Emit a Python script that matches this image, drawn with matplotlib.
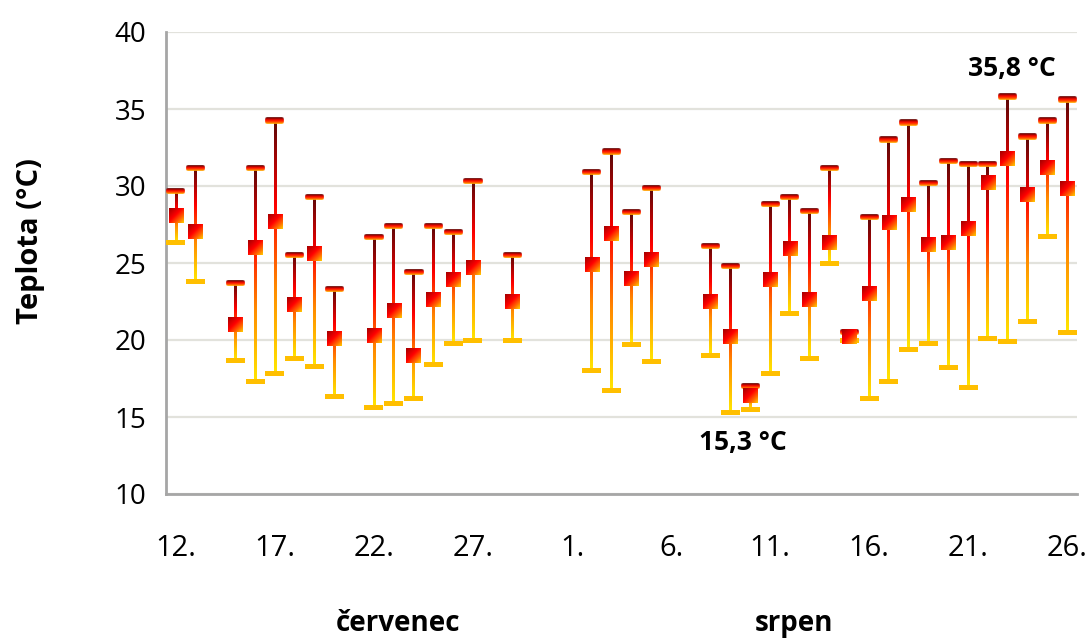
import numpy as np
import matplotlib
matplotlib.use("Agg")
import matplotlib.pyplot as plt
from matplotlib.colors import LinearSegmentedColormap
from matplotlib.patches import Rectangle
from matplotlib.transforms import blended_transform_factory

# ---- data -------------------------------------------------------------
july_days = list(range(12, 32))
august_days = list(range(1, 27))
day_labels = [f"{d}." for d in july_days + august_days]
months = ["červenec", "srpen"]

nan = np.nan
t_max = [29.7, 31.2, nan, 23.7, 31.2, 34.2, 25.5, 29.3, 23.3, nan,
         26.7, 27.4, 24.4, 27.4, 27.0, 30.3, nan, 25.5, nan, nan,
         nan, 30.9, 32.2, 28.3, 29.9, nan, nan, 26.1, 24.8, 17.0,
         28.8, 29.3, 28.4, 31.2, 20.5, 28.0, 33.0, 34.1, 30.2, 31.6,
         31.4, 31.4, 35.8, 33.2, 34.2, 35.6]
t_mean = [28.1, 27.0, nan, 21.0, 26.0, 27.7, 22.3, 25.6, 20.1, nan,
          20.3, 21.9, 19.0, 22.6, 23.9, 24.7, nan, 22.5, nan, nan,
          nan, 24.9, 26.9, 24.0, 25.2, nan, nan, 22.5, 20.2, 16.4,
          23.9, 25.9, 22.6, 26.3, 20.2, 23.0, 27.6, 28.8, 26.2, 26.3,
          27.2, 30.2, 31.8, 29.4, 31.2, 29.8]
t_min = [26.3, 23.8, nan, 18.7, 17.3, 17.8, 18.8, 18.3, 16.3, nan,
         15.6, 15.9, 16.2, 18.4, 19.8, 20.0, nan, 20.0, nan, nan,
         nan, 18.0, 16.7, 19.7, 18.6, nan, nan, 19.0, 15.3, 15.5,
         17.8, 21.7, 18.8, 25.0, 20.0, 16.2, 17.3, 19.4, 19.8, 18.2,
         16.9, 20.1, 19.9, 21.2, 26.7, 20.5]

# ---- style ------------------------------------------------------------
plt.rcParams["font.family"] = ["Open Sans", "DejaVu Sans"]
TEXT = "#000000"
GRID = "#e2e2dc"
SPINE = "#a6a6a6"

line_cmap = LinearSegmentedColormap.from_list(
    "hl", [(0.0, "#5a0808"), (0.33, "#ff0000"), (0.66, "#ff8a00"), (1.0, "#ffe800")])
cap_cmap = LinearSegmentedColormap.from_list(
    "cap", [(0.0, "#4a0000"), (0.45, "#ff0a00"), (0.75, "#ff5a00"), (1.0, "#ffc400")])
box_cmap = LinearSegmentedColormap.from_list(
    "box", [(0.0, "#a00000"), (0.45, "#ff0000"), (0.75, "#ff6a00"), (1.0, "#ffd400")])
LOW_CAP = "#ffbf00"

# marker sizes in pixels
CAP_W, CAP_H, CAP_R = 19.0, 6.0, 2.5
LOW_W, LOW_H = 19.0, 5.0
BOX = 14.5
LINE_W = 2.8

W, H, DPI = 1091, 640, 100
fig = plt.figure(figsize=(W / DPI, H / DPI), dpi=DPI)
fig.patch.set_facecolor("white")
ax = fig.add_axes([166 / W, 1 - 494 / H, (1077 - 166) / W, (494 - 32) / H])

x = np.arange(len(day_labels))
hi = np.array(t_max, dtype=float)
mu = np.array(t_mean, dtype=float)
lo = np.array(t_min, dtype=float)

xlim = (-0.5, len(x) - 0.5)
ylim = (10, 40)
ax.set_xlim(*xlim)
ax.set_ylim(*ylim)
ax.autoscale(False)

pos = ax.get_position()
dx = (xlim[1] - xlim[0]) / (pos.width * W)   # data units per pixel
dy = (ylim[1] - ylim[0]) / (pos.height * H)


def rounded_gradient(w_px, h_px, r_px, cmap, n=4):
    cols, rows = int(w_px * n), int(h_px * n)
    u = (np.arange(cols) + 0.5) / n
    v = (np.arange(rows) + 0.5) / n
    U, V = np.meshgrid(u, v)
    qx = np.clip(np.abs(U - w_px / 2) - (w_px / 2 - r_px), 0, None)
    qy = np.clip(np.abs(V - h_px / 2) - (h_px / 2 - r_px), 0, None)
    dist = np.hypot(qx, qy)
    alpha = np.clip(r_px - dist + 0.5, 0, 1)
    rgba = cmap(V / h_px)
    rgba[..., 3] = alpha
    return rgba


def diagonal_gradient(size_px, cmap, n=4):
    k = int(size_px * n)
    g = (np.arange(k) + 0.5) / k
    U, V = np.meshgrid(g, g)
    return cmap((U + V) / 2)


cap_img = rounded_gradient(CAP_W, CAP_H, CAP_R, cap_cmap)
box_img = diagonal_gradient(BOX, box_cmap)
line_img = line_cmap(np.linspace(0, 1, 256))[:, None, :]

for xi, h, m, l in zip(x, hi, mu, lo):
    if np.isnan(h):
        continue
    # high-low line with a top-to-bottom colour ramp
    ax.imshow(line_img, extent=(xi - LINE_W * dx / 2, xi + LINE_W * dx / 2, l, h),
              aspect="auto", interpolation="bilinear", zorder=3)
    # low cap
    ax.add_patch(Rectangle((xi - LOW_W * dx / 2, l - LOW_H * dy / 2),
                           LOW_W * dx, LOW_H * dy, facecolor=LOW_CAP,
                           edgecolor="none", zorder=4))
    # high cap
    ax.imshow(cap_img, extent=(xi - CAP_W * dx / 2, xi + CAP_W * dx / 2,
                               h - CAP_H * dy / 2, h + CAP_H * dy / 2),
              aspect="auto", interpolation="bilinear", zorder=5)
    # mean marker
    ax.imshow(box_img, extent=(xi - BOX * dx / 2, xi + BOX * dx / 2,
                               m - BOX * dy / 2, m + BOX * dy / 2),
              aspect="auto", interpolation="bilinear", zorder=6)

ax.set_xlim(*xlim)
ax.set_ylim(*ylim)

# ---- axes ------------------------------------------------------------
ax.set_yticks(np.arange(10, 41, 5))
ax.set_xticks(x[::5])
ax.set_xticklabels(day_labels[::5])
ax.tick_params(axis="x", length=0, pad=29, labelsize=21, labelcolor=TEXT)
ax.tick_params(axis="y", length=0, pad=14, labelsize=20, labelcolor=TEXT)
ax.grid(axis="y", color=GRID, linewidth=1.6, zorder=0)
ax.set_axisbelow(True)
for side in ("top", "right"):
    ax.spines[side].set_visible(False)
for side in ("left", "bottom"):
    ax.spines[side].set_color(SPINE)
    ax.spines[side].set_linewidth(2.0)

ax.set_ylabel("Teplota (°C)", fontsize=21, fontweight="bold", color=TEXT)
ax.yaxis.set_label_coords(-0.133, 0.548)

# month names under the day numbers
trans = blended_transform_factory(ax.transData, ax.transAxes)
for name, xc in zip(months, (11.2, 31.2)):
    ax.text(xc, -0.2965, name, transform=trans, ha="center", va="baseline",
            fontsize=20, fontweight="bold", color=TEXT)

# extremes of the period
i_max = int(np.nanargmax(hi))
i_min = int(np.nanargmin(lo))
fmt = lambda v: f"{v:.1f}".replace(".", ",") + " °C"
ax.annotate(fmt(hi[i_max]), xy=(x[i_max], hi[i_max]), xytext=(3, 20),
            textcoords="offset points", ha="center", va="center",
            fontsize=19, fontweight="bold", color=TEXT)
ax.annotate(fmt(lo[i_min]), xy=(x[i_min], lo[i_min]), xytext=(9, -22),
            textcoords="offset points", ha="center", va="center",
            fontsize=19, fontweight="bold", color=TEXT)

fig.savefig("out.png", dpi=DPI, facecolor="white")
